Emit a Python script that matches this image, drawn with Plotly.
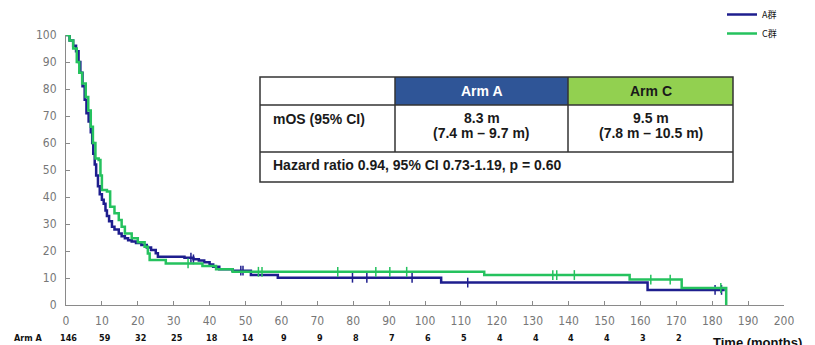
import numpy as np
import plotly.graph_objects as go

# ---------------- data ----------------
arm_a_time = [0, 1, 2, 2.8, 3.5, 4, 4.6, 5.2, 5.7, 6.3, 6.9, 7.3, 7.6, 8.0, 8.4, 8.9, 9.4, 10.0,
              10.5, 11, 11.4, 12, 12.8, 13.5, 14.7, 15.5, 16.4, 17.3, 18.3, 19.5, 21, 22.5, 23.7,
              25, 25.6, 33, 35.5, 37, 38.5, 40, 41, 42.7, 46.4, 51.5, 59, 104.5, 162, 183.5]
arm_a_surv = [100, 98, 96, 94, 90, 86, 81, 76, 71, 68, 64, 60, 56, 52, 48, 44, 41, 39,
              37.5, 35, 33, 31, 29, 28, 26.5, 25.5, 24.7, 24, 23.5, 23, 22.2, 21.3, 20.4,
              19.2, 17.9, 17.5, 16.9, 16.5, 15.8, 15.0, 14.2, 13.2, 12.7, 11.1, 10.1, 8.3, 5.6, 5.6]

arm_c_time = [0, 1, 2, 3, 3.7, 4.5, 5.5, 6.2, 6.9, 7.5, 8.2, 9.1, 9.6, 10, 11.4, 12.3, 13.5, 14.7,
              15.5, 16.4, 18.3, 20, 21.9, 22.8, 23.3, 27.8, 38, 41.8, 46.4, 116.5, 157, 171.5, 183.9, 183.9]
arm_c_surv = [100, 98, 95, 90, 86, 82, 77, 72, 66, 60, 54.3, 53.7, 48, 42.6, 42, 36.4, 34, 31.5,
              29, 26.5, 24.7, 23.2, 21.6, 19.1, 16.7, 15.4, 14.4, 13.2, 12.3, 11.1, 9.4, 6.3, 6.3, 0]

arm_a_censor = [34.8, 35.5, 48.7, 49.3, 79.8, 83.8, 96.4, 111.9, 180.8, 182.6]
arm_c_censor = [34.0, 53.6, 54.6, 75.7, 86.3, 90.2, 94.9, 135.6, 136.7, 141.6, 162.9, 168.3, 182.4]

risk_times = [0, 10, 20, 30, 40, 50, 60, 70, 80, 90, 100, 110, 120, 130, 140, 150, 160, 170]
risk_arm_a = [146, 59, 32, 25, 18, 14, 9, 9, 8, 7, 6, 5, 4, 4, 4, 4, 3, 2]

legend_names = ["A群", "C群"]
table_header = ["Arm A", "Arm C"]
mos_label = "mOS (95% CI)"
mos_median = ["8.3 m", "9.5 m"]
mos_ci = ["(7.4 m – 9.7 m)", "(7.8 m – 10.5 m)"]
hr_text = "Hazard ratio 0.94, 95% CI 0.73-1.19, p = 0.60"

BLUE = "#1E1E8E"
GREEN = "#25C25E"

# ---------------- layout geometry ----------------
W, H = 815, 345
L, R, T, B = 66, 31, 35, 40
PW, PH = W - L - R, H - T - B


def px(xp):
    return (xp - L) / PW


def py(yp):
    return (H - B - yp) / PH


def step_value(times, surv, t):
    idx = np.searchsorted(np.array(times), t, side="right") - 1
    return surv[max(idx, 0)]


fig = go.Figure()

for name, t, s, col, cens in [
    (legend_names[0], arm_a_time, arm_a_surv, BLUE, arm_a_censor),
    (legend_names[1], arm_c_time, arm_c_surv, GREEN, arm_c_censor),
]:
    fig.add_trace(go.Scatter(x=t, y=s, mode="lines", line=dict(color=col, width=2.5, shape="hv"),
                             name=name))
    fig.add_trace(go.Scatter(x=cens, y=[step_value(t, s, c) for c in cens], mode="markers",
                             marker=dict(symbol="line-ns", size=7, line=dict(color=col, width=1.5)),
                             showlegend=False, hoverinfo="skip"))

axis_font = dict(family="Liberation Sans Narrow, DejaVu Sans Condensed, sans-serif", size=12, color="#777777")

fig.update_xaxes(range=[0, 200], tickvals=list(range(0, 201, 10)), showline=True, linecolor="#8a8a8a",
                 linewidth=1.2, ticks="inside", ticklen=4, tickcolor="#8a8a8a", showgrid=False,
                 zeroline=False, tickfont=axis_font, ticklabelstandoff=4, automargin=False)
fig.update_yaxes(range=[0, 100], tickvals=list(range(0, 101, 10)), showline=True, linecolor="#8a8a8a",
                 linewidth=1.2, ticks="inside", ticklen=4, tickcolor="#8a8a8a", showgrid=False,
                 zeroline=False, tickfont=axis_font, ticklabelstandoff=6, automargin=False)

# ---------------- table ----------------
tl, tr, tt, tb = 260, 733, 77, 182
c1, c2 = 395, 568
r1, r2 = 105, 152
shapes = [
    dict(type="rect", xref="paper", yref="paper", x0=px(c1), x1=px(c2), y0=py(r1), y1=py(tt),
         fillcolor="#2F5597", line=dict(width=0), layer="above"),
    dict(type="rect", xref="paper", yref="paper", x0=px(c2), x1=px(tr), y0=py(r1), y1=py(tt),
         fillcolor="#92D050", line=dict(width=0), layer="above"),
    dict(type="rect", xref="paper", yref="paper", x0=px(tl), x1=px(tr), y0=py(tb), y1=py(tt),
         fillcolor="rgba(0,0,0,0)", line=dict(color="#333333", width=1.5), layer="above"),
]
for yline in (r1, r2):
    shapes.append(dict(type="line", xref="paper", yref="paper", x0=px(tl), x1=px(tr), y0=py(yline),
                       y1=py(yline), line=dict(color="#333333", width=1.5)))
for xline in (c1, c2):
    shapes.append(dict(type="line", xref="paper", yref="paper", x0=px(xline), x1=px(xline), y0=py(r2),
                       y1=py(tt), line=dict(color="#333333", width=1.5)))
fig.update_layout(shapes=shapes)

tfont = "Liberation Sans, Arial, sans-serif"
TS = 14
ann = []
ann.append(dict(x=px((c1 + c2) / 2), y=py(91), text="<b>%s</b>" % table_header[0],
                font=dict(family=tfont, size=TS, color="white")))
ann.append(dict(x=px((c2 + tr) / 2), y=py(91), text="<b>%s</b>" % table_header[1],
                font=dict(family=tfont, size=TS, color="#1a1a1a")))
ann.append(dict(x=px(271), y=py(119), text="<b>%s</b>" % mos_label, xanchor="left",
                font=dict(family=tfont, size=TS, color="#1a1a1a")))
for cx, med, ci in [((c1 + c2) / 2, mos_median[0], mos_ci[0]), ((c2 + tr) / 2, mos_median[1], mos_ci[1])]:
    ann.append(dict(x=px(cx), y=py(118), text="<b>%s</b>" % med,
                    font=dict(family=tfont, size=TS, color="#1a1a1a")))
    ann.append(dict(x=px(cx), y=py(133), text="<b>%s</b>" % ci,
                    font=dict(family=tfont, size=TS, color="#1a1a1a")))
ann.append(dict(x=px(271), y=py(165), text="<b>%s</b>" % hr_text, xanchor="left",
                font=dict(family=tfont, size=TS, color="#1a1a1a")))

# ---------------- risk table ----------------
rfont = dict(family="Liberation Sans Narrow, DejaVu Sans Condensed, sans-serif", size=9, color="#111111")
ann.append(dict(x=px(28), y=py(338), text="<b>Arm A</b>", font=rfont))
for t, n in zip(risk_times, risk_arm_a):
    ann.append(dict(x=t + 0.8, xref="x", y=py(338), text="<b>%d</b>" % n, font=rfont))
ann.append(dict(x=px(711), y=py(342), text="<b>Time (months)</b>", xanchor="left",
                font=dict(family=tfont, size=13, color="#111111")))

for a in ann:
    a.setdefault("xref", "paper")
    a["yref"] = "paper"
    a.setdefault("xanchor", "center")
    a.setdefault("yanchor", "middle")
    a["showarrow"] = False
fig.update_layout(annotations=ann)

fig.update_layout(
    width=W, height=H, margin=dict(l=L, r=R, t=T, b=B, pad=0, autoexpand=False),
    plot_bgcolor="white", paper_bgcolor="white",
    legend=dict(x=px(722), y=py(0), xanchor="left", yanchor="top", bgcolor="rgba(0,0,0,0)",
                font=dict(family="Noto Sans CJK SC, sans-serif", size=9, color="#111111"),
                itemwidth=30, tracegroupgap=0),
    showlegend=True,
)

fig.write_html("out.html", config={"displayModeBar": False},
               post_script="document.body.style.margin='0';document.body.style.overflow='hidden';")
